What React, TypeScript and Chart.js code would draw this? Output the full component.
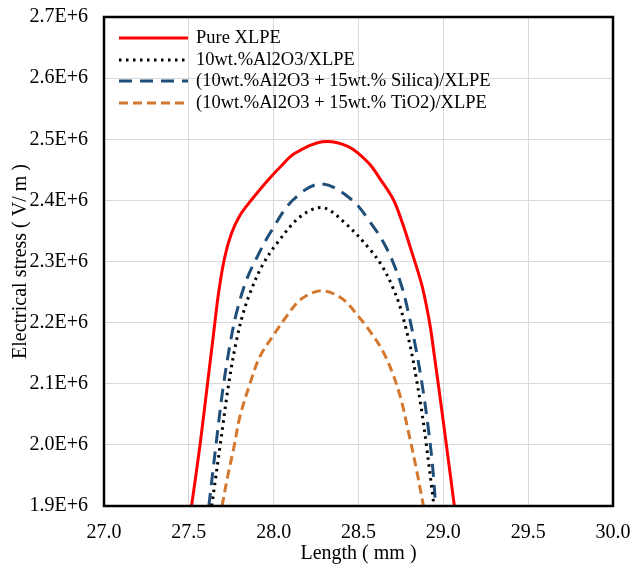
import React, { useEffect, useRef } from "react";
import { Chart, registerables } from "chart.js";

Chart.register(...registerables);

// Length (mm) and electrical stress (x1E+6 V/m) for each material
const pureX = [27.516, 27.566, 27.61, 27.645, 27.676, 27.71, 27.75, 27.8, 27.87, 27.97, 28.04, 28.125, 28.286, 28.44, 28.56, 28.63, 28.706, 28.76, 28.81, 28.87, 28.9, 28.925, 28.945, 28.97, 29.018, 29.065];
const pureY = [1.9, 2.0, 2.1, 2.18, 2.25, 2.305, 2.345, 2.375, 2.401, 2.434, 2.455, 2.477, 2.496, 2.488, 2.461, 2.434, 2.401, 2.362, 2.319, 2.265, 2.228, 2.19, 2.15, 2.1, 2.0, 1.9];

const al2o3X = [27.635, 27.685, 27.735, 27.78, 27.82, 27.86, 27.93, 28.02, 28.16, 28.29, 28.42, 28.57, 28.64, 28.7, 28.745, 28.78, 28.81, 28.84, 28.87, 28.9, 28.945];
const al2o3Y = [1.9, 2.0, 2.1, 2.17, 2.215, 2.248, 2.292, 2.33, 2.374, 2.388, 2.363, 2.319, 2.292, 2.259, 2.226, 2.19, 2.155, 2.11, 2.06, 2.0, 1.9];

const silicaX = [27.618, 27.66, 27.7, 27.74, 27.78, 27.84, 27.9, 27.98, 28.115, 28.28, 28.46, 28.58, 28.65, 28.706, 28.755, 28.79, 28.84, 28.88, 28.91, 28.935, 28.955];
const silicaY = [1.9, 2.0, 2.09, 2.16, 2.215, 2.27, 2.306, 2.347, 2.401, 2.427, 2.401, 2.36, 2.33, 2.297, 2.259, 2.221, 2.155, 2.09, 2.03, 1.97, 1.9];

const tio2X = [27.696, 27.73, 27.765, 27.8, 27.86, 27.92, 28.01, 28.07, 28.16, 28.28, 28.4, 28.5, 28.57, 28.64, 28.7, 28.75, 28.8, 28.84, 28.883];
const tio2Y = [1.9, 1.95, 1.995, 2.045, 2.1, 2.145, 2.184, 2.208, 2.238, 2.252, 2.24, 2.21, 2.185, 2.155, 2.118, 2.075, 2.014, 1.962, 1.9];

const seriesLabels = [
  "Pure XLPE",
  "10wt.%Al2O3/XLPE",
  "(10wt.%Al2O3 + 15wt.% Silica)/XLPE",
  "(10wt.%Al2O3 + 15wt.% TiO2)/XLPE",
];
const xTitle = "Length ( mm )";
const yTitle = "Electrical stress ( V/ m )";

const FONT = "'Liberation Serif', 'Times New Roman', serif";

const toPts = (xs: number[], ys: number[]) => xs.map((x, i) => ({ x, y: ys[i] }));

const framePlugin = {
  id: "frameLegend",
  afterDatasetsDraw(chart: any) {
    const { ctx, chartArea: a } = chart;
    ctx.save();
    ctx.strokeStyle = "#000";
    ctx.lineWidth = 2.5;
    ctx.setLineDash([]);
    ctx.strokeRect(a.left, a.top, a.right - a.left, a.bottom - a.top);
    // legend
    const x0 = a.left + 15;
    const x1 = a.left + 84;
    const tx = a.left + 92;
    const rows = [21, 43, 64, 86];
    chart.data.datasets.forEach((ds: any, i: number) => {
      const y = a.top + rows[i];
      ctx.beginPath();
      ctx.strokeStyle = ds.borderColor;
      ctx.lineWidth = ds.borderWidth;
      ctx.lineCap = "butt";
      ctx.setLineDash(ds.borderDash || []);
      ctx.moveTo(x0, y);
      ctx.lineTo(x1, y);
      ctx.stroke();
      ctx.setLineDash([]);
      ctx.fillStyle = "#000";
      ctx.font = `18.5px ${FONT}`;
      ctx.textBaseline = "middle";
      ctx.textAlign = "left";
      ctx.fillText(ds.label, tx, y);
    });
    ctx.restore();
  },
};

export default function App() {
  const ref = useRef<HTMLCanvasElement>(null);
  useEffect(() => {
    document.body.style.margin = "0";
    const common = { pointRadius: 0, borderWidth: 3, tension: 0.35 };
    const chart = new Chart(ref.current!, {
      type: "line",
      data: {
        datasets: [
          { ...common, label: seriesLabels[0], data: toPts(pureX, pureY), borderColor: "#FF0000" },
          { ...common, label: seriesLabels[1], data: toPts(al2o3X, al2o3Y), borderColor: "#000000", borderDash: [2.5, 4.5] },
          { ...common, label: seriesLabels[2], data: toPts(silicaX, silicaY), borderColor: "#1F4E79", borderDash: [13, 8] },
          { ...common, label: seriesLabels[3], data: toPts(tio2X, tio2Y), borderColor: "#D4782F", borderDash: [9, 5] },
        ],
      } as any,
      options: {
        animation: false,
        responsive: false,
        layout: { padding: { left: 0, right: 21, top: 17, bottom: 0 } },
        plugins: { legend: { display: false }, tooltip: { enabled: false } },
        scales: {
          x: {
            type: "linear",
            min: 27,
            max: 30,
            afterFit: (s: any) => {
              s.height = 62;
              s.paddingLeft = 0;
              s.paddingRight = 0;
            },
            ticks: {
              stepSize: 0.5,
              color: "#000",
              padding: 15,
              font: { family: FONT, size: 20 },
              callback: (v: any) => Number(v).toFixed(1),
            },
            grid: { color: "#D9D9D9", lineWidth: 1, drawTicks: false },
            border: { display: false },
            title: {
              display: true,
              text: xTitle,
              color: "#000",
              font: { family: FONT, size: 20 },
              padding: { top: 0, bottom: 2 },
            },
          },
          y: {
            min: 1.9,
            max: 2.7,
            afterFit: (s: any) => {
              s.width = 104;
              s.paddingTop = 0;
              s.paddingBottom = 0;
            },
            ticks: {
              stepSize: 0.1,
              color: "#000",
              padding: 16,
              font: { family: FONT, size: 20 },
              callback: (v: any) => Number(v).toFixed(1) + "E+6",
            },
            grid: { color: "#D9D9D9", lineWidth: 1, drawTicks: false },
            border: { display: false },
            title: {
              display: true,
              text: yTitle,
              color: "#000",
              font: { family: FONT, size: 20 },
              padding: { top: 9, bottom: 0 },
            },
          },
        },
      },
      plugins: [framePlugin],
    });
    return () => chart.destroy();
  }, []);
  return (
    <div style={{ position: "fixed", left: 0, top: 0, width: 634, height: 568, background: "#fff" }}>
      <canvas ref={ref} width={634} height={568} />
    </div>
  );
}
